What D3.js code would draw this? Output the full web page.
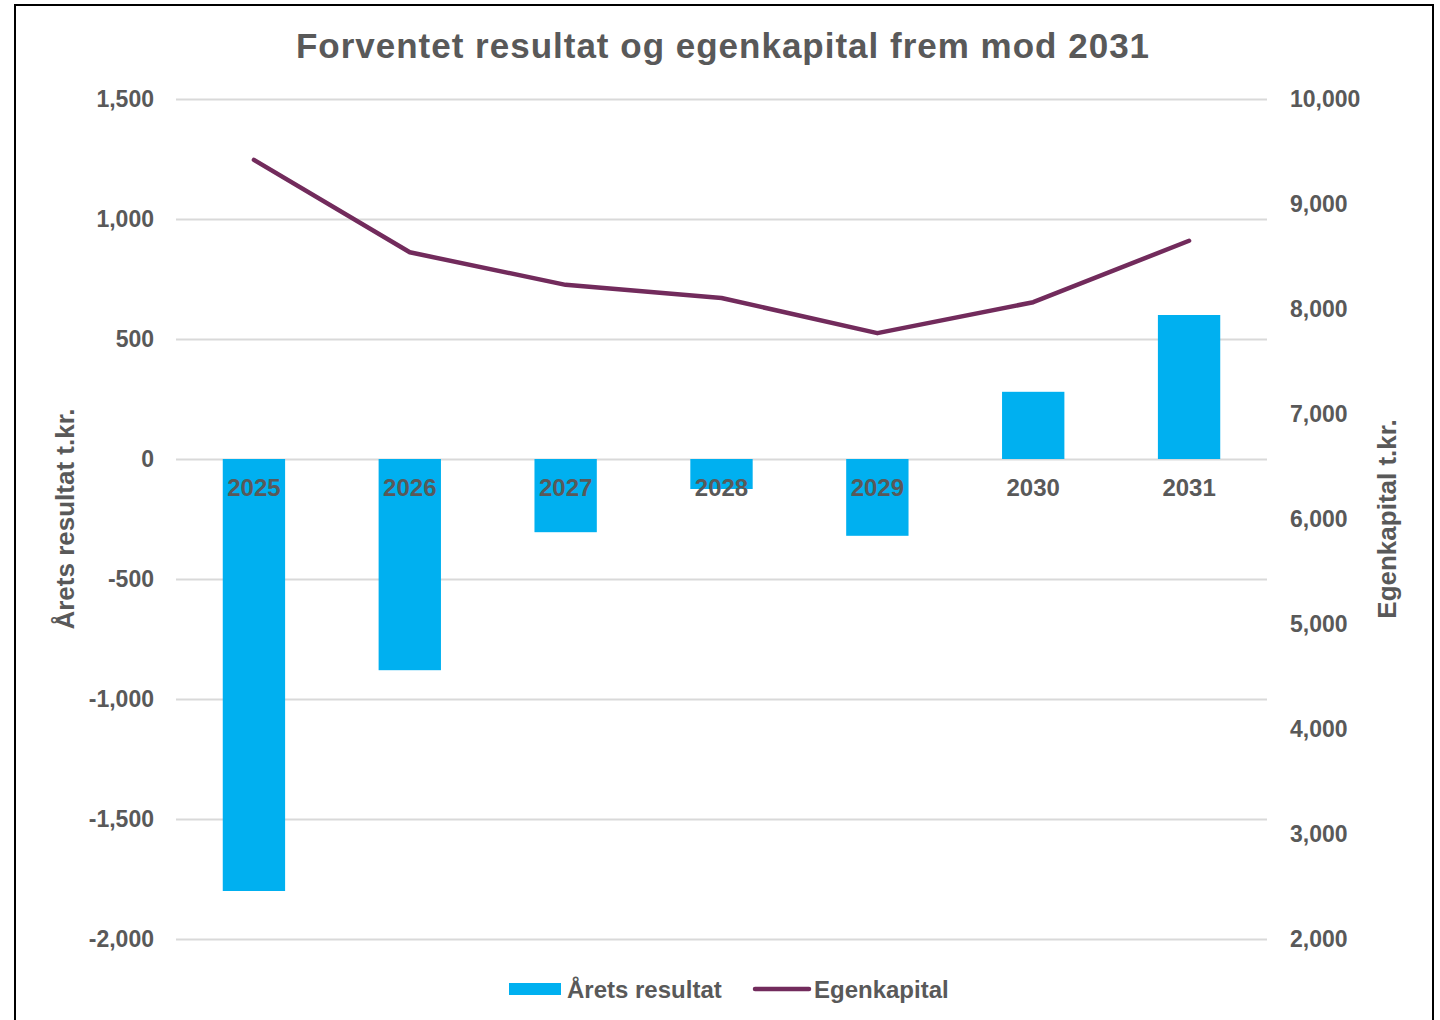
<!DOCTYPE html>
<html><head><meta charset="utf-8">
<script src="https://cdn.jsdelivr.net/npm/d3@7"></script>
<style>body{margin:0;background:#fff;} svg{display:block;font-family:"Liberation Sans",Arial,sans-serif;}</style>
</head><body>
<svg id="c" width="1440" height="1020"></svg>
<script>
const categories = ["2025","2026","2027","2028","2029","2030","2031"];
const resultValues = [-1800, -880, -305, -125, -320, 280, 600];
const equityValues = [9420, 8540, 8230, 8105, 7770, 8065, 8650];
const leftTicks = [-2000,-1500,-1000,-500,0,500,1000,1500];
const rightTicks = [2000,3000,4000,5000,6000,7000,8000,9000,10000];
const seriesNames = ["Årets resultat","Egenkapital"];
const title = "Forventet resultat og egenkapital frem mod 2031";
const leftTitle = "Årets resultat t.kr.";
const rightTitle = "Egenkapital t.kr.";

const svg = d3.select("#c");
const textColor = "#595959";
const barColor = "#00b0f0";
const lineColor = "#722b5c";
const m = {left:176, right:1267, top:99, bottom:939};

svg.append("rect").attr("x",15).attr("y",5).attr("width",1418).attr("height",1030)
  .attr("fill","#fff").attr("stroke","#000").attr("stroke-width",2);

const x = d3.scaleBand().domain(categories).range([m.left,m.right]).paddingInner(0.6).paddingOuter(0.3);
const yL = d3.scaleLinear().domain([-2000,1500]).range([m.bottom,m.top]);
const yR = d3.scaleLinear().domain([2000,10000]).range([m.bottom,m.top]);
const fmt = d => d3.format(",")(d).replace("\u2212","-");

// gridlines
svg.append("g").selectAll("line").data(leftTicks).join("line")
  .attr("x1",m.left).attr("x2",m.right)
  .attr("y1",d=>yL(d)+0.5).attr("y2",d=>yL(d)+0.5)
  .attr("stroke","#d9d9d9").attr("stroke-width",2);

// left axis
const gL = svg.append("g").attr("transform",`translate(${m.left},0)`)
  .call(d3.axisLeft(yL).tickValues(leftTicks).tickFormat(fmt).tickSize(0).tickPadding(22));
gL.select(".domain").remove();
gL.selectAll("text").attr("fill",textColor).attr("font-size",23).attr("font-weight","bold")
  .attr("font-family","Liberation Sans, Arial, sans-serif");

// right axis
const gR = svg.append("g").attr("transform",`translate(${m.right},0)`)
  .call(d3.axisRight(yR).tickValues(rightTicks).tickFormat(fmt).tickSize(0).tickPadding(23));
gR.select(".domain").remove();
gR.selectAll("text").attr("fill",textColor).attr("font-size",23).attr("font-weight","bold")
  .attr("font-family","Liberation Sans, Arial, sans-serif");

// bars
svg.append("g").selectAll("rect").data(categories).join("rect")
  .attr("x",d=>x(d)).attr("width",x.bandwidth())
  .attr("y",(d,i)=>Math.min(yL(resultValues[i]),yL(0)))
  .attr("height",(d,i)=>Math.abs(yL(resultValues[i])-yL(0)))
  .attr("fill",barColor);

// category axis labels
const gX = svg.append("g").attr("transform",`translate(0,${yL(0)})`)
  .call(d3.axisBottom(x).tickSize(0).tickPadding(20));
gX.select(".domain").remove();
gX.selectAll("text").attr("fill",textColor).attr("font-size",24).attr("font-weight","bold")
  .attr("font-family","Liberation Sans, Arial, sans-serif");

// line
const line = d3.line().x((d,i)=>x(categories[i])+x.bandwidth()/2).y(d=>yR(d));
svg.append("path").datum(equityValues).attr("d",line)
  .attr("fill","none").attr("stroke",lineColor).attr("stroke-width",4.5)
  .attr("stroke-linejoin","round").attr("stroke-linecap","round");

// title
svg.append("text").attr("x",723).attr("y",58).attr("text-anchor","middle")
  .attr("font-size",35).attr("letter-spacing",1).attr("font-weight","bold").attr("fill",textColor).text(title);

// axis titles
svg.append("text").attr("transform",`translate(74,${yL(-250)}) rotate(-90)`)
  .attr("text-anchor","middle").attr("font-size",26).attr("font-weight","bold").attr("fill",textColor).text(leftTitle);
svg.append("text").attr("transform",`translate(1396,${yL(-250)}) rotate(-90)`)
  .attr("text-anchor","middle").attr("font-size",26).attr("font-weight","bold").attr("fill",textColor).text(rightTitle);

// legend
const lg = svg.append("g");
lg.append("rect").attr("x",509).attr("y",983).attr("width",52).attr("height",12).attr("fill",barColor);
lg.append("text").attr("x",567).attr("y",998).attr("font-size",24).attr("font-weight","bold").attr("fill",textColor).text(seriesNames[0]);
lg.append("line").attr("x1",755).attr("x2",809).attr("y1",989).attr("y2",989)
  .attr("stroke",lineColor).attr("stroke-width",4.5).attr("stroke-linecap","round");
lg.append("text").attr("x",814).attr("y",998).attr("font-size",24).attr("font-weight","bold").attr("fill",textColor).text(seriesNames[1]);
</script>
</body></html>
